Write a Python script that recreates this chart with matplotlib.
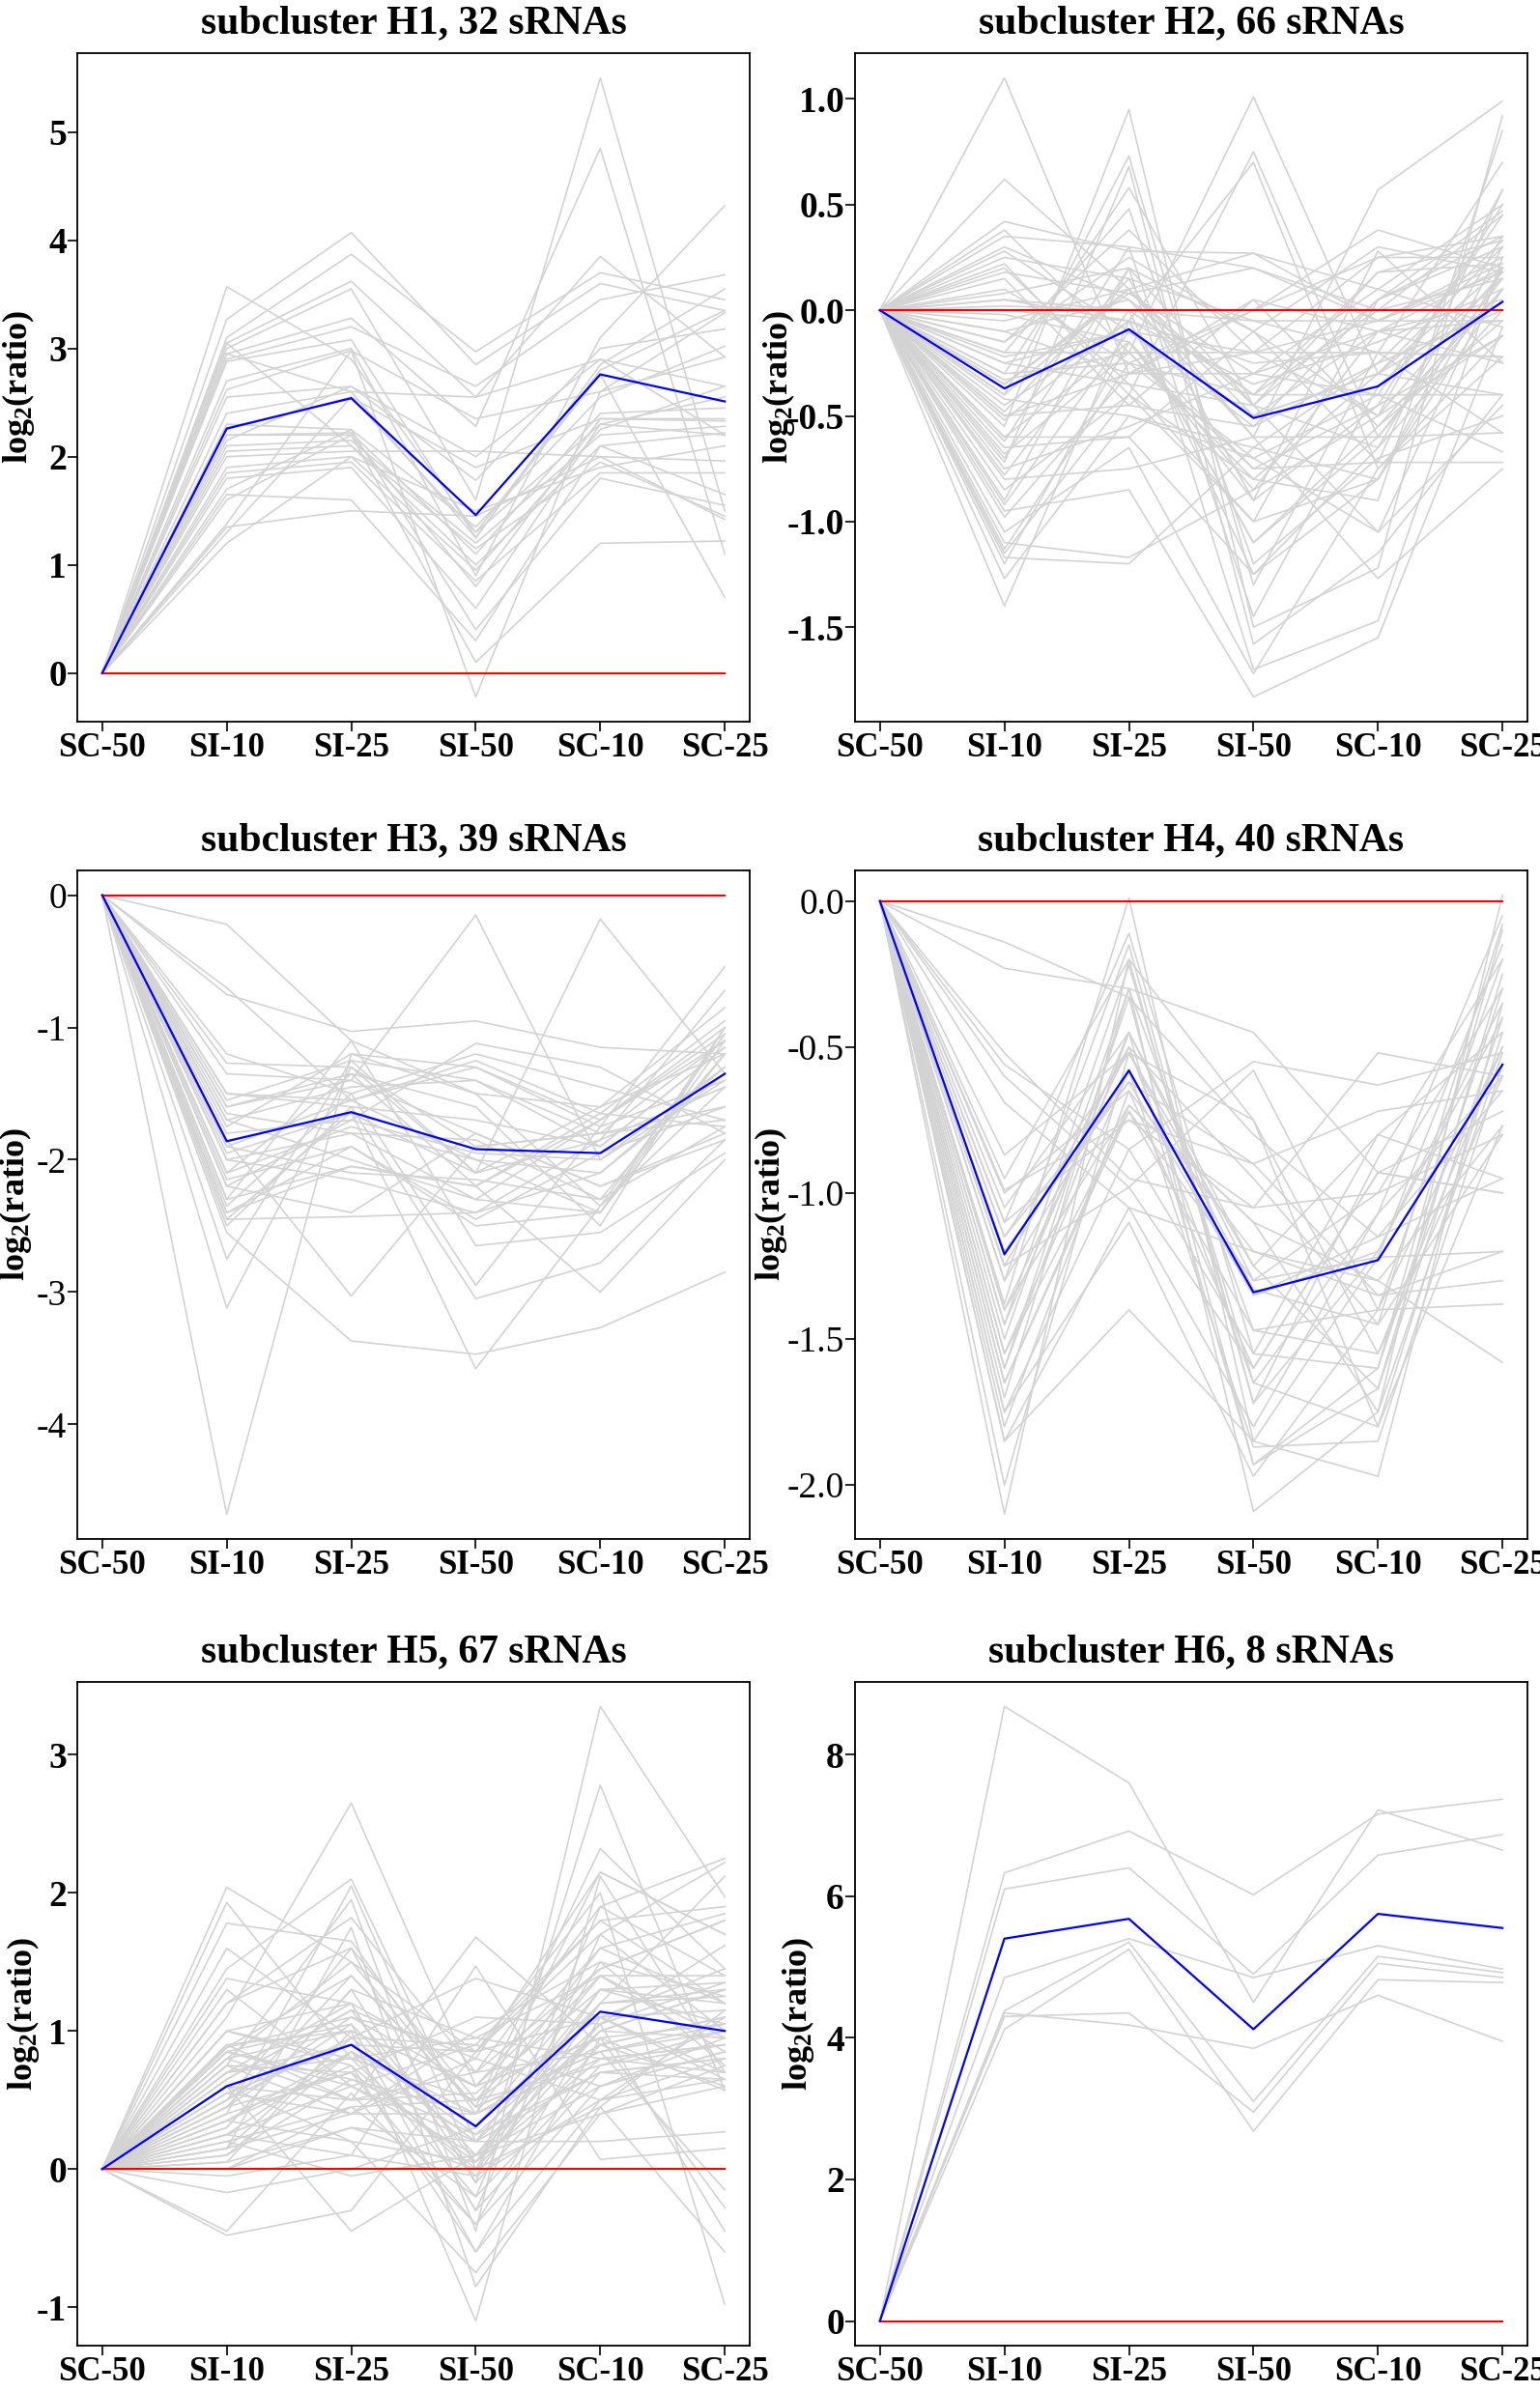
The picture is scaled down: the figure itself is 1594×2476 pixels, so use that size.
import matplotlib
matplotlib.use("Agg")
import matplotlib.pyplot as plt

plt.rcParams["font.family"] = ["Liberation Serif", "DejaVu Serif"]
plt.rcParams["axes.unicode_minus"] = False
plt.rcParams["mathtext.fontset"] = "custom"
plt.rcParams["mathtext.rm"] = "Liberation Serif:bold"
plt.rcParams["mathtext.it"] = "Liberation Serif:bold"
plt.rcParams["mathtext.bf"] = "Liberation Serif:bold"

samples = ["SC-50", "SI-10", "SI-25", "SI-50", "SC-10", "SC-25"]

# each row = one sRNA, values at SI-10, SI-25, SI-50, SC-10, SC-25 (SC-50 is 0)
h1_lines = [
    [3.57, 2.90, 1.30, 2.30, 2.20], [3.27, 4.07, 2.85, 3.60, 3.35],
    [3.10, 3.87, 2.97, 3.70, 3.45], [3.05, 3.62, 2.55, 3.85, 2.92],
    [3.00, 3.55, 1.60, 5.50, 1.50], [2.95, 3.28, 2.28, 4.85, 1.10],
    [2.90, 3.20, 2.65, 3.45, 3.68], [2.88, 3.08, 1.25, 2.85, 3.55],
    [2.70, 3.00, 0.90, 3.10, 4.32], [2.62, 2.98, 2.35, 2.60, 3.33],
    [2.55, 2.65, 1.78, 3.00, 3.18], [2.40, 2.60, 2.55, 2.90, 2.65],
    [2.30, 2.25, 1.35, 2.55, 3.02], [2.20, 2.22, 1.10, 2.40, 2.45],
    [2.20, 2.20, 0.80, 2.35, 2.33], [2.10, 2.15, 1.20, 2.20, 2.28],
    [2.05, 2.10, 1.00, 2.10, 2.22], [2.00, 2.05, 2.05, 2.00, 1.96],
    [1.90, 2.00, 1.50, 1.90, 2.10], [1.85, 1.95, 0.85, 1.85, 1.85],
    [1.80, 1.90, 0.60, 2.30, 2.55], [1.70, 2.25, 0.40, 1.80, 1.55],
    [1.65, 1.60, 0.30, 2.10, 1.65], [1.60, 2.20, 0.10, 1.20, 1.22],
    [1.38, 2.98, -0.22, 2.60, 2.92], [1.35, 1.50, 1.45, 2.00, 1.42],
    [1.30, 2.55, 1.30, 2.76, 0.70], [1.20, 2.00, 0.95, 2.25, 2.65],
    [2.95, 2.60, 1.25, 2.80, 3.35], [2.25, 2.55, 1.90, 2.35, 2.35],
    [3.05, 2.10, 1.15, 1.95, 1.45], [2.15, 2.65, 2.00, 2.90, 2.20],
]
h2_lines = [
    [1.10, -0.30, 0.05, -0.10, 0.20], [0.62, 0.10, -0.45, 0.05, 0.30],
    [0.42, 0.28, 0.27, -0.05, 0.25], [0.38, -0.20, 1.01, -0.30, -0.40],
    [0.35, 0.30, 0.20, 0.00, 0.15], [0.30, 0.05, -0.60, 0.57, 0.99],
    [0.28, -0.10, -0.20, 0.25, 0.35], [0.25, 0.15, -0.05, -0.20, -0.22],
    [0.22, -0.40, 0.75, -0.60, 0.10], [0.18, 0.08, -0.30, 0.10, -0.08],
    [0.10, -0.25, -0.70, -0.40, 0.45], [0.08, 0.20, -0.10, 0.30, 0.18],
    [0.05, -0.05, 0.70, -0.75, -0.12], [0.02, 0.00, -0.40, 0.18, 0.33],
    [-0.02, -0.15, -0.85, -0.50, 0.57], [-0.05, 0.10, -0.50, -0.10, -0.05],
    [-0.10, -0.30, 0.00, 0.38, 0.20], [-0.15, 0.38, -0.20, -0.05, 0.22],
    [-0.20, 0.48, -1.20, -0.70, -0.50], [-0.22, -0.10, -0.55, -0.25, 0.00],
    [-0.25, -0.35, -1.00, 0.05, 0.47], [-0.30, 0.58, -0.45, -1.05, -0.45],
    [-0.33, -0.20, -0.75, -0.45, 0.50], [-0.40, 0.73, -1.30, -0.20, 0.70],
    [-0.42, -0.50, -0.65, -0.80, 0.30], [-0.48, 0.15, -0.90, 0.28, -0.25],
    [-0.50, -0.45, 0.05, -0.55, 0.10], [-0.52, -0.05, -1.10, -0.60, -0.58],
    [-0.55, 0.95, -1.50, -1.22, 0.92], [-0.60, -0.60, -0.10, -0.72, -0.72],
    [-0.62, 0.30, -1.45, -0.36, 0.15], [-0.68, -0.20, -0.80, -0.90, 0.85],
    [-0.72, 0.68, -1.58, -1.15, -0.40], [-0.75, -0.55, -0.30, -0.40, -0.67],
    [-0.78, 0.00, -1.25, -0.65, 0.35], [-0.80, -0.75, -0.60, -1.27, -0.75],
    [-0.90, 0.20, -1.70, -1.47, 0.25], [-0.92, -0.10, -0.50, -0.30, 0.04],
    [-0.95, -0.85, -1.83, -1.55, -0.08], [-0.98, -0.30, -0.20, -0.50, 0.18],
    [-1.05, -0.65, -1.72, -0.75, -0.22], [-1.10, -1.17, -0.85, -0.10, 0.05],
    [-1.13, -0.25, -0.40, 0.00, 0.45], [-1.15, -0.40, -1.00, -0.80, 0.10],
    [-1.17, -1.20, -0.65, -0.25, 0.33], [-1.20, -0.15, -0.90, -0.45, -0.12],
    [-1.27, -0.50, -0.70, -1.05, 0.20], [-1.40, -0.05, -1.10, -0.55, -0.05],
    [-0.40, 0.10, 0.27, 0.10, 0.50], [0.05, 0.00, -0.05, -0.05, -0.05],
    [-0.20, -0.20, -0.20, -0.20, -0.22], [-0.10, 0.05, -0.40, -0.40, -0.40],
    [-0.30, -0.25, 0.00, 0.25, 0.25], [0.20, -0.35, -0.45, 0.18, 0.22],
    [-0.60, -0.15, -0.75, -0.72, 0.57], [-0.50, -0.30, -0.30, -0.10, -0.25],
    [-0.35, 0.10, -0.60, -0.60, 0.15], [-0.25, -0.10, -0.50, -0.30, 0.30],
    [-0.70, 0.20, -0.45, -0.65, 0.00], [-0.85, -0.40, -0.80, -0.30, 0.20],
    [-0.45, -0.05, -0.25, -0.20, -0.58], [0.15, -0.45, -0.55, 0.05, 0.35],
    [-0.15, 0.25, -0.10, -0.50, -0.12], [-0.65, -0.60, -1.25, -0.80, 0.20],
    [0.00, -0.05, -0.35, -0.15, 0.10], [-0.35, 0.08, 0.20, -0.05, 0.18],
]
h3_lines = [
    [-0.22, -1.10, -1.50, -1.60, -1.20], [-0.70, -1.55, -1.30, -1.70, -1.00],
    [-0.75, -1.03, -0.95, -1.15, -1.20], [-1.20, -1.50, -1.20, -1.45, -1.70],
    [-1.27, -1.30, -1.90, -1.80, -1.10], [-1.35, -1.40, -0.15, -2.00, -1.40],
    [-1.50, -1.60, -1.70, -1.90, -1.15], [-1.55, -1.25, -2.10, -0.18, -1.35],
    [-1.60, -1.35, -2.20, -1.65, -0.95], [-1.65, -1.80, -1.85, -2.30, -1.75],
    [-1.70, -2.00, -2.30, -1.70, -1.05], [-1.75, -1.20, -1.50, -2.35, -1.45],
    [-1.80, -1.70, -1.12, -1.30, -1.80], [-1.90, -1.55, -2.00, -2.40, -1.10],
    [-2.00, -2.15, -2.40, -1.85, -0.72], [-2.10, -1.35, -1.60, -2.50, -1.00],
    [-2.15, -1.90, -2.45, -1.95, -1.60], [-2.20, -2.40, -1.80, -2.20, -1.85],
    [-2.30, -1.10, -2.65, -2.55, -1.95], [-2.35, -1.50, -2.95, -1.75, -0.54],
    [-2.40, -2.05, -2.20, -3.00, -2.00], [-2.45, -2.43, -2.40, -2.10, -1.30],
    [-2.50, -1.60, -3.05, -2.78, -1.85], [-2.55, -3.37, -3.47, -3.27, -2.85],
    [-2.75, -1.25, -1.40, -1.90, -1.15], [-3.12, -1.30, -2.10, -1.60, -0.85],
    [-4.68, -1.20, -1.30, -1.75, -1.40], [-1.85, -3.03, -1.90, -1.80, -1.70],
    [-2.45, -1.64, -3.58, -2.35, -1.05], [-2.00, -1.80, -2.30, -2.40, -1.20],
    [-1.95, -1.65, -2.10, -1.85, -1.45], [-2.30, -2.05, -2.20, -1.70, -1.10],
    [-1.60, -1.40, -1.80, -2.20, -1.80], [-2.20, -1.70, -1.95, -2.00, -1.30],
    [-1.50, -1.55, -1.25, -1.65, -1.75], [-2.40, -1.90, -2.50, -2.40, -1.00],
    [-1.70, -1.45, -1.40, -1.80, -1.60], [-1.90, -2.10, -2.15, -2.30, -1.20],
    [-2.10, -1.75, -2.00, -2.10, -1.35],
]
h4_lines = [
    [-0.14, -0.33, -0.80, -1.15, -0.95], [-0.23, -0.30, -0.45, -0.93, -1.00],
    [-0.52, -0.95, -1.05, -0.52, -0.60], [-0.56, -0.85, -0.55, -0.63, -0.52],
    [-0.60, -0.98, -0.58, -1.40, -1.38], [-0.69, -1.05, -1.20, -1.35, -1.20],
    [-0.87, -0.52, -1.25, -0.80, -0.45], [-0.95, -0.20, -0.75, -1.80, -0.77],
    [-0.99, -0.75, -0.90, -0.72, -0.65], [-1.05, -0.45, -1.30, -1.00, -0.30],
    [-1.10, -0.11, -1.55, -1.60, -0.10], [-1.15, -0.62, -1.35, -1.20, -0.40],
    [-1.25, -0.50, -0.95, -1.45, -0.80], [-1.30, -0.15, -1.72, -0.88, -0.20],
    [-1.38, 0.01, -1.85, -1.97, -0.35], [-1.40, -0.70, -1.10, -1.30, -1.58],
    [-1.45, -0.22, -1.65, -1.07, -0.05], [-1.55, -0.58, -1.87, -1.85, -0.56],
    [-1.60, -0.45, -1.93, -1.67, -0.25], [-1.65, -0.72, -1.47, -1.55, -0.60],
    [-1.70, -0.30, -2.09, -1.75, 0.02], [-1.75, -1.10, -1.97, -1.40, -0.50],
    [-1.80, -0.65, -1.60, -0.93, -0.72], [-1.85, -1.40, -1.85, -1.22, -0.15],
    [-2.00, -0.52, -1.33, -1.45, -0.08], [-2.10, -0.20, -1.72, -1.20, -0.35],
    [-1.20, -0.62, -0.90, -1.35, -1.30], [-1.40, -0.50, -1.65, -1.80, -0.45],
    [-1.10, -0.75, -1.05, -1.00, -0.80], [-1.60, -0.33, -1.93, -1.60, -0.30],
    [-1.30, -0.58, -1.35, -1.15, -0.65], [-1.75, -0.85, -1.55, -0.80, -0.95],
    [-1.45, -0.45, -1.25, -1.67, -0.40], [-1.00, -0.65, -1.20, -1.30, -0.77],
    [-1.25, -0.98, -1.60, -0.93, -1.00], [-1.65, -0.70, -1.10, -1.75, -0.52],
    [-1.50, -0.30, -1.47, -1.40, -0.20], [-1.85, -1.05, -1.80, -1.07, -0.60],
    [-1.15, -0.52, -0.75, -1.55, -0.50], [-1.55, -0.72, -1.30, -1.22, -1.20],
]
h5_lines = [
    [2.04, 1.50, 0.85, 1.80, 1.20], [1.93, 0.80, 0.50, 1.40, 0.85],
    [1.78, 1.65, 0.40, 2.15, 1.70], [1.60, 0.95, 1.38, 1.10, 0.65],
    [1.45, 2.10, 0.20, 1.00, 1.30], [1.38, 1.20, -0.30, 1.70, 2.22],
    [1.30, 0.60, 0.90, 0.60, 0.95], [1.20, 1.82, 0.70, 0.85, -0.15],
    [1.10, 2.65, 0.60, 1.45, 1.80], [1.00, 0.75, -0.60, 0.95, 1.05],
    [0.88, 1.40, 0.45, 2.32, 1.45], [0.85, 1.05, 0.10, 1.20, 2.12],
    [0.80, 0.50, 1.68, 0.90, 0.60], [0.75, 1.95, -0.45, 3.35, 1.97],
    [0.70, 0.90, 0.25, 0.70, 0.80], [0.65, 1.15, 0.05, 1.30, 1.35],
    [0.55, 0.40, 0.80, 0.50, 1.10], [0.50, 1.60, -0.10, 2.78, 0.57],
    [0.45, 0.70, 1.10, 1.05, 1.62], [0.40, 2.05, 0.00, 1.50, 1.25],
    [0.35, 0.20, -0.75, 0.40, 0.75], [0.30, 1.30, 0.95, 0.80, 0.90],
    [0.25, 0.85, -0.20, 1.90, 2.25], [0.20, 0.45, 0.50, 0.75, 1.00],
    [0.15, 1.75, -0.85, 0.45, -0.60], [0.10, 0.65, 0.40, 1.60, 1.85],
    [0.05, 1.00, -1.10, 2.12, 0.70], [0.00, 0.30, 0.20, 0.20, 0.27],
    [-0.05, 0.10, 1.47, 0.07, 0.15], [-0.17, 0.00, 0.30, 1.40, 1.40],
    [-0.45, 0.55, -0.40, 1.10, 1.15], [-0.48, -0.30, 0.85, 2.00, -0.98],
    [0.60, -0.45, 0.10, 0.60, 0.85], [0.88, 1.10, 0.60, 0.95, -0.28],
    [1.00, 0.80, -0.05, 1.20, 1.30], [0.80, 1.50, 0.45, 0.85, 1.05],
    [0.50, 0.95, 0.90, 1.80, 1.90], [0.35, 0.75, 0.00, 1.00, 0.95],
    [0.70, 1.20, -0.30, 0.70, 0.65], [0.25, 0.60, 0.20, 1.30, 1.20],
    [0.90, 0.50, 0.70, 1.45, 1.80], [0.45, 1.05, -0.60, 0.50, 0.80],
    [0.60, 0.20, 0.05, 1.05, 1.35], [0.10, 0.85, 0.40, 0.80, 0.70],
    [0.75, 0.40, 1.00, 1.50, 0.75], [0.30, 1.30, -0.10, 0.90, 1.10],
    [0.85, 0.65, 0.25, 1.05, -0.45], [0.55, 0.90, 0.85, 1.70, 1.00],
    [0.20, -0.05, 0.10, 0.40, 0.60], [1.20, 1.60, 0.50, 1.10, 1.45],
    [0.00, 0.45, -0.20, 0.75, 0.90], [0.65, 1.15, 0.80, 2.15, 1.70],
    [0.40, 0.70, -0.40, 0.60, 0.85], [0.15, 0.95, 0.30, 1.20, 1.25],
    [0.80, 1.00, 0.60, 0.95, 0.57], [0.05, 0.30, 0.00, 0.45, 1.15],
    [0.70, 0.80, 0.95, 1.40, 0.95], [0.45, 1.40, 0.45, 0.85, 1.00],
    [0.85, 0.60, 0.10, 1.00, 1.30], [0.25, 0.10, -0.05, 0.50, 0.65],
    [1.00, 1.20, 0.70, 1.90, 1.40], [0.35, 0.85, 0.20, 0.70, 0.80],
    [0.60, 0.50, 0.55, 1.30, 1.05], [0.50, 1.10, 0.85, 1.10, 0.70],
    [0.75, 0.70, 0.05, 0.80, 0.90], [0.15, 0.40, 0.40, 0.90, 1.10],
    [0.90, 1.00, 0.60, 1.60, 1.20],
]
h6_lines = [
    [8.68, 7.60, 4.50, 7.22, 6.65], [6.33, 6.92, 6.02, 7.16, 7.37],
    [6.10, 6.40, 4.90, 6.58, 6.87], [4.85, 5.40, 4.85, 5.30, 4.97],
    [4.38, 5.35, 3.10, 5.15, 4.92], [4.30, 4.35, 2.95, 5.05, 4.85],
    [4.12, 5.25, 2.68, 4.82, 4.78], [4.35, 4.18, 3.85, 4.60, 3.95],
]

# cluster centre (blue line)
h1_mean = [0, 2.26, 2.54, 1.46, 2.76, 2.51]
h2_mean = [0, -0.37, -0.09, -0.51, -0.36, 0.04]
h3_mean = [0, -1.86, -1.64, -1.92, -1.95, -1.35]
h4_mean = [0, -1.21, -0.58, -1.34, -1.23, -0.56]
h5_mean = [0, 0.60, 0.90, 0.31, 1.14, 1.00]
h6_mean = [0, 5.40, 5.68, 4.12, 5.75, 5.55]

titles = ["subcluster H1, 32 sRNAs", "subcluster H2, 66 sRNAs",
          "subcluster H3, 39 sRNAs", "subcluster H4, 40 sRNAs",
          "subcluster H5, 67 sRNAs", "subcluster H6, 8 sRNAs"]
yticks = [[0, 1, 2, 3, 4, 5], [-1.5, -1.0, -0.5, 0.0, 0.5, 1.0],
          [-4, -3, -2, -1, 0], [-2.0, -1.5, -1.0, -0.5, 0.0],
          [-1, 0, 1, 2, 3], [0, 2, 4, 6, 8]]
ytick_fmt = ["%d", "%.1f", "%d", "%.1f", "%d", "%d"]
ytick_weight = ["bold", "bold", "normal", "normal", "bold", "bold"]
# x position (axes fraction) of the right side of the rotated y label
label_x = [-0.060, -0.086, -0.065, -0.098, -0.053, -0.058]

panels = [h1_lines, h2_lines, h3_lines, h4_lines, h5_lines, h6_lines]
means = [h1_mean, h2_mean, h3_mean, h4_mean, h5_mean, h6_mean]

# axes rectangles in figure fractions
lefts = [0.0502, 0.5552]
rows = [(0.6983, 0.2795), (0.3566, 0.2795), (0.0194, 0.2775)]

fig = plt.figure(figsize=(15.94, 24.76), dpi=100)
x = list(range(len(samples)))

for i, lines in enumerate(panels):
    bottom, height = rows[i // 2]
    ax = fig.add_axes([lefts[i % 2], bottom, 0.4366, height])
    allv = [0.0]
    for row in lines:
        vals = [0.0] + row
        allv += vals
        ax.plot(x, vals, color="#d3d3d3", lw=1.2, zorder=1)
    ax.plot(x, [0] * len(x), color="red", lw=1.5, zorder=2)
    ax.plot(x, means[i], color="blue", lw=1.6, zorder=3)

    lo, hi = min(allv), max(allv)
    pad = (hi - lo) * 0.04
    ax.set_ylim(lo - pad, hi + pad)
    ax.set_xlim(-0.2, 5.2)

    ax.set_xticks(x)
    ax.set_xticklabels(samples, fontsize=25, fontweight="bold")
    ax.set_yticks(yticks[i])
    ax.set_yticklabels([ytick_fmt[i] % v for v in yticks[i]], fontsize=27,
                       fontweight=ytick_weight[i])
    ax.tick_params(direction="out", length=7, width=1.2, pad=1)
    for s in ax.spines.values():
        s.set_linewidth(1.3)

    ax.set_ylabel("log$_2$(ratio)", fontsize=26, fontweight="bold")
    ax.yaxis.set_label_coords(label_x[i], 0.5)
    ax.set_title(titles[i], fontsize=30, fontweight="bold", pad=15)

fig.savefig("out.png", dpi=100)
